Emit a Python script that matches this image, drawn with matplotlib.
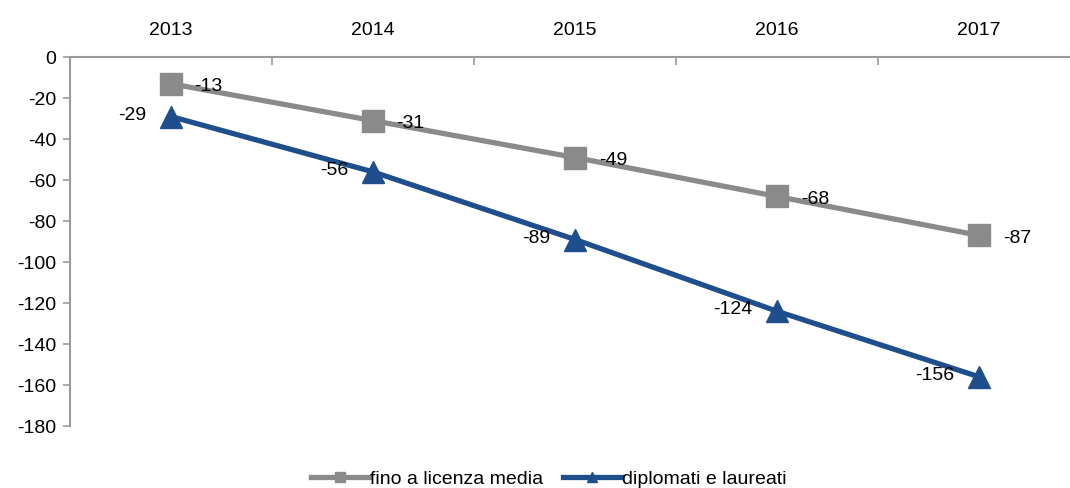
import matplotlib.pyplot as plt
import numpy as np

plt.rcParams['font.family'] = ['Liberation Sans Narrow', 'Liberation Sans', 'DejaVu Sans']
plt.rcParams['axes.unicode_minus'] = False

# dati
anni = ['2013', '2014', '2015', '2016', '2017']
fino_licenza_media = [-13, -31, -49, -68, -87]
diplomati_laureati = [-29, -56, -89, -124, -156]

GRIGIO = '#8a8a8a'
BLU = '#1f4e8c'
ASSE = '#9a9a9a'

fig = plt.figure(figsize=(10.7, 4.88), dpi=100)
ax = fig.add_axes([0.0654, 0.127, 0.944, 0.756])

x = np.arange(len(anni))

ax.plot(x, fino_licenza_media, color=GRIGIO, lw=3.8, marker='s', ms=16,
        label='fino a licenza media')
ax.plot(x, diplomati_laureati, color=BLU, lw=3.8, marker='^', ms=16,
        label='diplomati e laureati')

# etichette dei valori
for xi, v in zip(x, fino_licenza_media):
    ax.annotate(str(v), (xi, v), xytext=(17, -2), textcoords='offset points',
                ha='left', va='center', fontsize=14)
for xi, v in zip(x, diplomati_laureati):
    ax.annotate(str(v), (xi, v), xytext=(-18, 1), textcoords='offset points',
                ha='right', va='center', fontsize=14)

ax.set_xlim(-0.5, 4.5)
ax.set_ylim(-180, 0)
ax.set_yticks(np.arange(-180, 1, 20))
ax.tick_params(axis='y', labelsize=14, color=ASSE, length=5, width=1.2, pad=5)

# anni sopra, tacche tra le categorie
ax.xaxis.tick_top()
ax.set_xticks(x)
ax.set_xticklabels(anni)
ax.tick_params(axis='x', which='major', length=0, labelsize=14, pad=13)
ax.set_xticks(np.arange(-0.5, 5, 1), minor=True)
ax.tick_params(axis='x', which='minor', top=True, bottom=False, direction='in',
               length=6, width=1.2, color=ASSE)

for s in ['right', 'bottom']:
    ax.spines[s].set_visible(False)
for s in ['left', 'top']:
    ax.spines[s].set_color(ASSE)
    ax.spines[s].set_linewidth(1.5)

leg = fig.legend(loc='lower center', bbox_to_anchor=(0.513, -0.035), ncol=2,
                 frameon=False, fontsize=14, handlelength=3.0, handletextpad=0.05,
                 columnspacing=1.0, markerscale=0.45)

fig.savefig('out.png', dpi=100)
